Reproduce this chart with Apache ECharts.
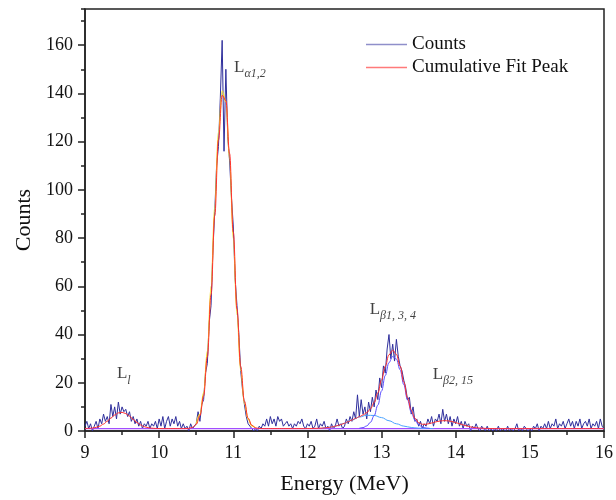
<!DOCTYPE html>
<html>
<head>
<meta charset="utf-8">
<script src="https://cdn.jsdelivr.net/npm/echarts@6/dist/echarts.min.js"></script>
<style>
  html, body { margin: 0; padding: 0; background: #fff; }
  #main { width: 616px; height: 500px; }
</style>
</head>
<body>
<div id="main"></div>
<script>
// raw spectrum, one value every 0.025 MeV starting at 9 MeV
var countStart = 9, countStep = 0.025;
var counts = [
  2,4,1,3,0,2,4,1,5,3, 7,4,6,3,11,6,10,5,12,7, 10,8,9,6,8,4,6,3,5,2, 4,1,3,2,4,1,3,2,4,1,   // 9.000 - 9.975
  5,2,6,1,4,6,2,5,3,6, 2,4,1,3,1,2,0,3,1,2,                                               // 10.000 - 10.475
  3,8,4,11,13,24,28,45,52,75, 91,110,118,138,162,116,150,122,112,97,                      // 10.500 - 10.975
  85,63,52,40,25,17,11,6,3,2, 1,0,1,0,2,1,3,2,5,2,                                        // 11.000 - 11.475
  6,3,5,2,6,4,5,2,3,4, 2,3,1,3,2,4,3,5,2,1,                                               // 11.500 - 11.975
  3,2,4,1,2,5,1,3,2,4, 1,2,0,3,1,2,5,2,3,1,                                               // 12.000 - 12.475
  2,5,3,6,4,8,5,15,6,13, 7,10,5,12,8,14,10,17,13,22,                                      // 12.500 - 12.975
  18,27,24,34,40,30,36,29,38,31, 27,25,21,18,13,14,7,10,4,5,                              // 13.000 - 13.475
  2,4,1,3,2,5,3,6,2,5, 4,7,3,9,4,7,3,6,2,5,                                               // 13.500 - 13.975
  3,6,2,4,1,4,2,3,0,2, 1,3,1,0,2,1,0,2,0,1,                                               // 14.000 - 14.475
  0,1,0,2,0,1,1,0,2,0, 1,0,1,3,0,1,0,2,1,0,                                               // 14.500 - 14.975
  1,0,2,1,3,0,2,1,3,1, 4,1,3,2,5,1,3,2,4,1, 3,5,2,4,1,4,2,5,1,3, 4,2,5,1,3,2,4,1,5,2,     // 15.000 - 15.975
  1                                                                                       // 16.000
];

// cumulative fit, one value every 0.05 MeV from 9 MeV
var fitStart = 9, fitStep = 0.05;
var cumulativeFit = [
  1.03,1.09,1.23,1.52,2.04,2.88,4.03,5.37,6.64,7.51, 7.74,7.23,6.16,4.82,3.53,2.5,1.8,1.38,1.16,1.06,
  1.02,1,1,1,1,1,1,1,1.1,1.5, 2.75,6.3,14.6,30.7,56.5,89.3,120.7,139.2,137,115.1,
  82.5,50.6,26.8,12.4,5.3,2.4,1.3,1.05,1,1, 1,1,1,1,1,1,1,1,1,1,
  1.02,1.04,1.07,1.12,1.21,1.35,1.54,1.82,2.19,2.66, 3.22,3.86,4.54,5.23,5.93,6.66,7.63,9.19,11.79,15.82,
  21.2,26.9,31.6,33.5,31.8,26.9,20.3,13.75,8.6,5.25, 3.45,2.79,2.78,3.1,3.52,3.91,4.2,4.3,4.2,3.91,
  3.49,3.0,2.51,2.07,1.71,1.45,1.26,1.15,1.08,1.04, 1.02,1,1,1,1,1,1,1,1,1,
  1,1,1,1,1,1,1,1,1,1, 1,1,1,1,1,1,1,1,1,1, 1
];

// single peak components (with baseline)
var alphaStart = 10.5, alphaStep = 0.05;
var alphaPeak = [3.0,6.9,15.9,33.1,60.0,93.4,124.2,141,136.6,112.9,79.7,48.2,25.1,11.5,4.9,2.1,1.3];

var broadStart = 12.2, broadStep = 0.1;
var broadPeak = [1.21,1.54,2.19,3.22,4.53,5.79,6.53,6.44,5.56,4.26,2.99,2.03,1.46,1.17,1.05,1.01];

var beta1Start = 12.7, beta1Step = 0.05;
var beta1Peak = [1.14,1.41,2.10,3.59,6.35,10.74,16.6,23.0,28.4,30.9,29.8,25.4,19.2,12.9,7.9,4.51,2.57,1.62,1.22,1.07];

var baselineX = [9, 16];
var baselineY = [1, 1];

// peak labels: [energy, counts, main, subscript]
var peakLabels = [
  [9.43, 22.8, 'L', 'l'],
  [11.01, 149.8, 'L', 'α1,2'],
  [12.84, 49.6, 'L', 'β1, 3, 4'],
  [13.69, 22.6, 'L', 'β2, 15']
];

function toPairs(start, step, arr) {
  var out = [];
  for (var i = 0; i < arr.length; i++) {
    out.push([+(start + i * step).toFixed(4), arr[i]]);
  }
  return out;
}

var serif = '"Liberation Serif", "Times New Roman", serif';
var axisColor = '#222';

var myChart = echarts.init(document.getElementById('main'));

var option = {
  animation: false,
  backgroundColor: '#fff',
  textStyle: { fontFamily: serif },
  grid: {
    left: 85, right: 9, top: 9, bottom: 69,
    show: true, borderColor: axisColor, borderWidth: 1.5, backgroundColor: 'transparent'
  },
  legend: {
    orient: 'vertical',
    left: 366, top: 35, padding: 0,
    icon: 'rect',
    itemWidth: 41, itemHeight: 1.5, itemGap: 4,
    textStyle: { fontFamily: serif, fontSize: 19, color: '#111', lineHeight: 19 },
    data: [
      { name: 'Counts', itemStyle: { color: '#8f8fca' } },
      { name: 'Cumulative Fit Peak', itemStyle: { color: '#ff7a7a' } }
    ]
  },
  xAxis: {
    type: 'value',
    min: 9, max: 16, interval: 1,
    name: 'Energy (MeV)',
    nameLocation: 'middle', nameGap: 42,
    nameTextStyle: { fontFamily: serif, fontSize: 22, color: '#111' },
    axisLine: { show: true, onZero: false, lineStyle: { color: axisColor, width: 1.5 } },
    axisTick: { show: true, length: 7, lineStyle: { color: axisColor, width: 1.5 } },
    minorTick: { show: true, splitNumber: 2, length: 4, lineStyle: { color: axisColor, width: 1.5 } },
    axisLabel: { fontFamily: serif, fontSize: 18, color: '#111', margin: 13 },
    splitLine: { show: false }
  },
  yAxis: [
    {
      type: 'value',
      min: 0, max: 175, interval: 20,
      name: 'Counts',
      nameLocation: 'middle', nameGap: 50, nameRotate: 90,
      nameTextStyle: { fontFamily: serif, fontSize: 22, color: '#111' },
      axisLine: { show: true, onZero: false, lineStyle: { color: axisColor, width: 1.5 } },
      axisTick: { show: true, length: 7, lineStyle: { color: axisColor, width: 1.5 } },
      axisLabel: { fontFamily: serif, fontSize: 18, color: '#111', margin: 12, showMaxLabel: false },
      splitLine: { show: false }
    },
    {
      // minor ticks only
      type: 'value',
      position: 'left',
      min: 0, max: 175, interval: 10,
      axisLine: { show: false },
      axisTick: { show: true, length: 4, lineStyle: { color: axisColor, width: 1.5 } },
      axisLabel: { show: false },
      splitLine: { show: false }
    }
  ],
  series: [
    {
      name: 'Counts',
      type: 'line',
      symbol: 'none',
      data: toPairs(countStart, countStep, counts),
      lineStyle: { color: '#2f2f9c', width: 1 },
      itemStyle: { color: '#2f2f9c' },
      z: 2
    },
    {
      name: 'Baseline',
      type: 'line',
      symbol: 'none',
      data: [[baselineX[0], baselineY[0]], [baselineX[1], baselineY[1]]],
      lineStyle: { color: '#a24dff', width: 1.2 },
      z: 3
    },
    {
      name: 'Peak L alpha',
      type: 'line',
      symbol: 'none',
      smooth: 0.4, smoothMonotone: 'x',
      data: toPairs(alphaStart, alphaStep, alphaPeak),
      lineStyle: { color: '#f2dd2a', width: 1.2 },
      z: 3
    },
    {
      name: 'Peak broad',
      type: 'line',
      symbol: 'none',
      smooth: 0.4, smoothMonotone: 'x',
      data: toPairs(broadStart, broadStep, broadPeak),
      lineStyle: { color: '#4aa3ff', width: 1 },
      z: 3
    },
    {
      name: 'Peak L beta1',
      type: 'line',
      symbol: 'none',
      smooth: 0.4, smoothMonotone: 'x',
      data: toPairs(beta1Start, beta1Step, beta1Peak),
      lineStyle: { color: '#5a4dff', width: 1 },
      z: 3
    },
    {
      name: 'Cumulative Fit Peak',
      type: 'line',
      symbol: 'none',
      smooth: 0.4, smoothMonotone: 'x',
      data: toPairs(fitStart, fitStep, cumulativeFit),
      lineStyle: { color: '#ff3030', width: 1 },
      itemStyle: { color: '#ff3030' },
      z: 4
    },
    {
      name: 'labels',
      type: 'scatter',
      symbolSize: 0,
      silent: true,
      z: 5,
      data: peakLabels.map(function (p) { return { value: [p[0], p[1]], main: p[2], sub: p[3] }; }),
      label: {
        show: true,
        position: 'inside',
        align: 'left',
        verticalAlign: 'middle',
        formatter: function (params) {
          return '{a|' + params.data.main + '}{b|' + params.data.sub + '}';
        },
        rich: {
          a: { fontFamily: serif, fontSize: 17, color: '#111', padding: [0, 0, 4, 0], verticalAlign: 'bottom' },
          b: { fontFamily: serif, fontSize: 12, fontStyle: 'italic', color: '#111', verticalAlign: 'bottom' }
        }
      }
    }
  ]
};

myChart.setOption(option);
</script>
</body>
</html>
